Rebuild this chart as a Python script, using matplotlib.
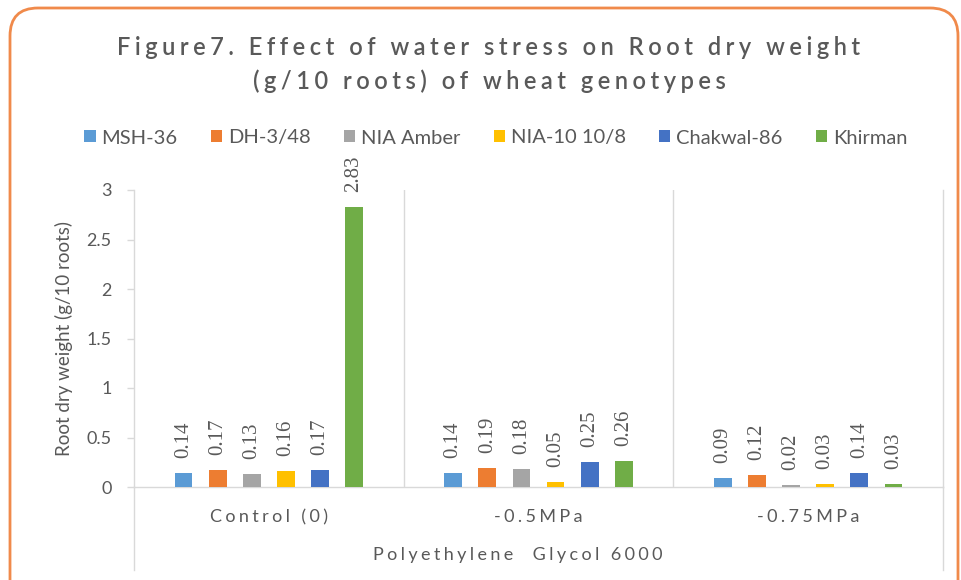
import matplotlib
matplotlib.use("Agg")
import matplotlib.pyplot as plt
import numpy as np
from matplotlib.patches import FancyBboxPatch
from matplotlib.transforms import IdentityTransform

plt.rcParams['font.family'] = ['Lato', 'DejaVu Sans']

categories = ["Control (0)", "-0.5MPa", "-0.75MPa"]
series_names = ["MSH-36", "DH-3/48", "NIA Amber", "NIA-10 10/8", "Chakwal-86", "Khirman"]
msh36 = [0.14, 0.14, 0.09]
dh348 = [0.17, 0.19, 0.12]
nia_amber = [0.13, 0.18, 0.02]
nia10 = [0.16, 0.05, 0.03]
chakwal86 = [0.17, 0.25, 0.14]
khirman = [2.83, 0.26, 0.03]
series_values = [msh36, dh348, nia_amber, nia10, chakwal86, khirman]
colors = ["#5B9BD5", "#ED7D31", "#A5A5A5", "#FFC000", "#4472C4", "#70AD47"]
yticks = [0, 0.5, 1, 1.5, 2, 2.5, 3]
ytick_labels = ["0", "0.5", "1", "1.5", "2", "2.5", "3"]
title = "Figure7. Effect of water stress on Root dry weight\n(g/10 roots) of wheat genotypes"
ylabel = "Root dry weight (g/10 roots)"
xlabel = "Polyethylene  Glycol 6000"

TXT = "#595959"
AXC = "#D9D9D9"
W, H = 961, 580


def spaced(s, sep="\u200a"):
    return "\n".join(sep.join(list(line)) for line in s.split("\n"))


fig = plt.figure(figsize=(W / 100, H / 100), dpi=100)
ax = fig.add_axes([134 / W, 1 - 487 / H, (943 - 134) / W, (487 - 190) / H])

x = np.arange(len(categories))
pitch = 0.1265
width = 0.066
for i, (name, vals, c) in enumerate(zip(series_names, series_values, colors)):
    xs = x + (i - 2.5) * pitch
    ax.bar(xs, vals, width, color=c, label=name, zorder=3)
    for xi, v in zip(xs, vals):
        ax.annotate(f"{v:.2f}", xy=(xi, v), xytext=(0, 11), textcoords="offset points",
                    rotation=90, ha="center", va="bottom", fontsize=15,
                    family=["Liberation Serif"], color=TXT, annotation_clip=False)

ax.set_xlim(-0.5, 2.5)
ax.set_ylim(0, 3)
ax.set_yticks(yticks)
ax.set_yticklabels(ytick_labels)
ax.set_xticks(x)
ax.set_xticklabels([spaced(c, "\u2009\u200a") for c in categories])
ax.tick_params(axis="y", length=5, width=1, color=AXC, pad=11, labelsize=13, labelcolor=TXT)
ax.tick_params(axis="x", length=0, pad=16, labelsize=13, labelcolor=TXT)
for s in ["top", "right"]:
    ax.spines[s].set_visible(False)
ax.spines["left"].set_color(AXC)
ax.spines["bottom"].set_color(AXC)
ax.spines["left"].set_linewidth(1)
ax.spines["bottom"].set_linewidth(1)
for sx in [0.5, 1.5]:
    ax.axvline(sx, color=AXC, lw=1, zorder=1)
ext = (570 - 487) / (487 - 190)
for xx in [0, 1]:
    ax.plot([xx, xx], [0, -ext], transform=ax.transAxes, color=AXC, lw=1, clip_on=False)
ax.plot([1, 1], [0, 1], transform=ax.transAxes, color=AXC, lw=1, clip_on=False)

ax.set_ylabel(ylabel, fontsize=13.5, color=TXT, labelpad=10)
fig.text(518 / W, 1 - 555 / H, spaced(xlabel, "\u2009\u200a"), ha="center", va="center",
         fontsize=13, color=TXT)

fig.text(489 / W, 1 - 64.5 / H, spaced(title, "\u2009\u200a"), ha="center", va="center",
         fontsize=17, color=TXT, linespacing=1.55, fontweight=600)

leg = ax.legend(loc="center", bbox_to_anchor=(496 / W, 1 - 138 / H),
                bbox_transform=fig.transFigure, ncol=6, frameon=False,
                fontsize=14.5, labelcolor=TXT, handlelength=0.55, handleheight=0.55,
                handletextpad=0.3, columnspacing=1.65)

border = FancyBboxPatch((10, -40), 948, H - 8 + 40, boxstyle="round,pad=0,rounding_size=28",
                        transform=IdentityTransform(), facecolor="none",
                        edgecolor="#F08A4B", linewidth=2)
fig.add_artist(border)

fig.savefig("out.png", dpi=100)
